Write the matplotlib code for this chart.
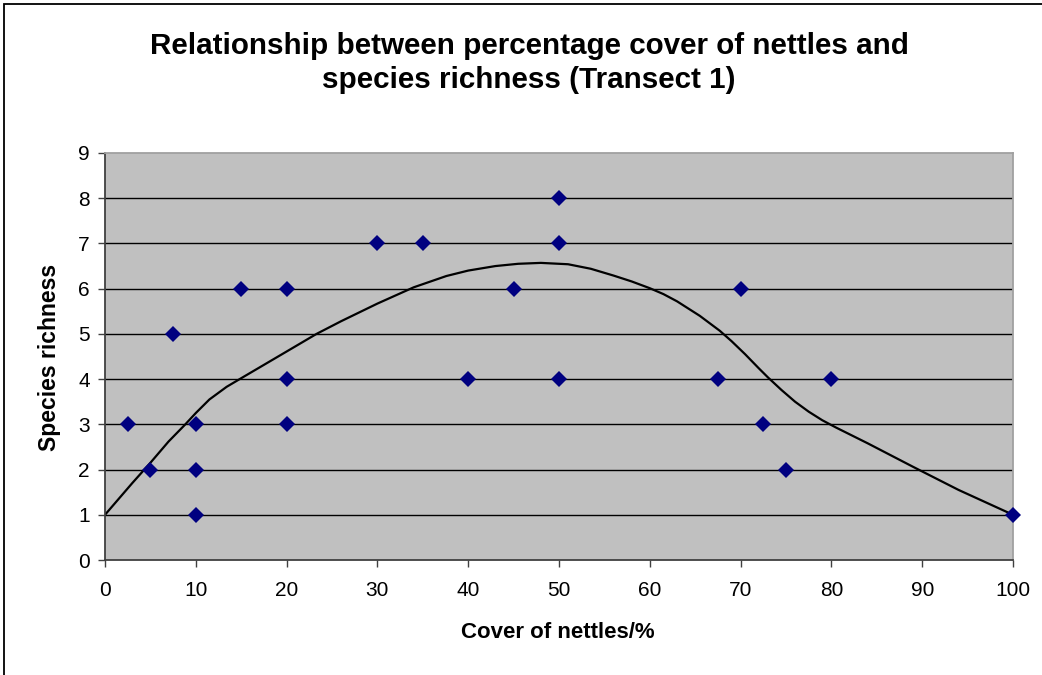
import matplotlib
matplotlib.use("Agg")
import matplotlib.pyplot as plt
from matplotlib.patches import Rectangle

plt.rcParams['font.family'] = ['Liberation Sans', 'DejaVu Sans']

# quadrat survey: nettle cover (%) against number of species
cover = [2.5, 5, 7.5, 10, 10, 10, 15, 20, 20, 20, 30, 35, 40, 45, 50, 50, 50,
         67.5, 70, 72.5, 75, 80, 100]
richness = [3, 2, 5, 3, 2, 1, 6, 6, 4, 3, 7, 7, 4, 6, 8, 7, 4,
            4, 6, 3, 2, 4, 1]

# hand-fitted trend line
trend_x = [0, 3, 5, 7, 8.8, 10, 11.5, 13.4, 15, 20, 23.3, 26, 30, 34, 37.6,
           40, 43, 45.5, 48, 51, 53.5, 56, 58, 60, 61.5, 63, 65.5, 67.7, 69,
           70.5, 72, 73, 74.5, 76, 77.5, 79, 80.5, 82, 84, 86.5, 89, 94, 100]
trend_y = [1, 1.7, 2.15, 2.62, 2.99, 3.25, 3.55, 3.83, 4.02, 4.61, 5.0, 5.28,
           5.67, 6.03, 6.28, 6.40, 6.50, 6.55, 6.57, 6.54, 6.44, 6.29, 6.16,
           6.01, 5.88, 5.72, 5.40, 5.07, 4.84, 4.55, 4.24, 4.04, 3.76, 3.50,
           3.28, 3.09, 2.93, 2.78, 2.58, 2.32, 2.06, 1.55, 1.0]

x_ticks = list(range(0, 101, 10))
y_ticks = list(range(0, 10))

W, H = 1042, 675
fig = plt.figure(figsize=(W / 100, H / 100), dpi=100)
fig.patch.set_facecolor('white')

# chart border (left and top edges visible)
fig.patches.append(Rectangle((4 / W, -0.1), 1.2, 1.1 - 4 / H, transform=fig.transFigure,
                             fill=False, edgecolor='black', linewidth=1.3))

ax = fig.add_axes([105 / W, (H - 560) / H, (1013 - 105) / W, (560 - 153) / H])
ax.set_facecolor('#c0c0c0')

for y in y_ticks[1:-1]:
    ax.axhline(y, color='black', linewidth=1.0, zorder=1)

ax.plot(trend_x, trend_y, color='black', linewidth=1.6, zorder=2,
        solid_joinstyle='round')
ax.plot(cover, richness, linestyle='none', marker='D', markersize=8,
        color='#000080', markeredgewidth=0, zorder=3, clip_on=False)

ax.set_xlim(0, 100)
ax.set_ylim(0, 9)
ax.set_xticks(x_ticks)
ax.set_yticks(y_ticks)
ax.tick_params(axis='both', direction='out', length=5, width=1, color='#404040',
               labelsize=15)
ax.tick_params(axis='x', pad=10)
ax.tick_params(axis='y', pad=6)

for side in ['left', 'bottom']:
    ax.spines[side].set_color('#404040')
    ax.spines[side].set_linewidth(1.3)
for side in ['top', 'right']:
    ax.spines[side].set_color('#a0a0a0')
    ax.spines[side].set_linewidth(1.3)

fig.text(529 / W, 1 - 63 / H,
         'Relationship between percentage cover of nettles and\nspecies richness (Transect 1)',
         ha='center', va='center', fontsize=21.3, fontweight='bold', linespacing=1.25)
fig.text(558 / W, 1 - 632 / H, 'Cover of nettles/%', ha='center', va='center',
         fontsize=16, fontweight='bold')
fig.text(50 / W, 1 - 357 / H, 'Species richness', ha='center', va='center',
         rotation=90, fontsize=16.5, fontweight='bold')

fig.savefig('out.png', dpi=100)
